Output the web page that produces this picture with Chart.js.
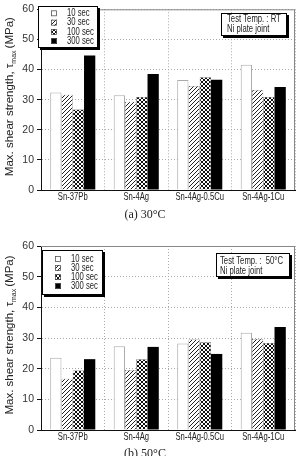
<!DOCTYPE html>
<html>
<head>
<meta charset="utf-8">
<script src="https://cdn.jsdelivr.net/npm/chart.js@4.4.0/dist/chart.umd.min.js"></script>
<style>
  html, body { margin: 0; padding: 0; background: #fff; overflow: hidden; }
  .box { position: absolute; left: 0; width: 299px; height: 228px; }
</style>
</head>
<body>
<div class="box" style="top:0"><canvas id="c1"></canvas></div>
<div class="box" style="top:228px"><canvas id="c2"></canvas></div>
<script>
// Data
const categories = ['Sn-37Pb', 'Sn-4Ag', 'Sn-4Ag-0.5Cu', 'Sn-4Ag-1Cu'];
const seriesNames = ['10 sec', '30 sec', '100 sec', '300 sec'];
const yTicks = [0, 10, 20, 30, 40, 50, 60];

// (a) 30°C
const rt10  = [32.4, 31.5, 36.5, 41.6];
const rt30  = [31.6, 29.3, 34.5, 33.2];
const rt100 = [26.7, 30.9, 37.4, 30.9];
const rt300 = [44.7, 38.5, 36.6, 34.2];

// (b) 50°C
const t50_10  = [23.6, 27.3, 28.2, 31.7];
const t50_30  = [16.7, 19.6, 29.5, 29.7];
const t50_100 = [19.4, 23.1, 28.6, 28.4];
const t50_300 = [23.1, 27.1, 24.8, 33.6];

const SANS = '"Liberation Sans", Arial, sans-serif';

// Fill patterns
function hatchPattern() {
  const c = document.createElement('canvas');
  c.width = c.height = 4;
  const g = c.getContext('2d');
  g.fillStyle = '#fff';
  g.fillRect(0, 0, 4, 4);
  g.strokeStyle = '#222';
  g.lineWidth = 1;
  g.beginPath();
  g.moveTo(0, 4); g.lineTo(4, 0);
  g.moveTo(-1, 1); g.lineTo(1, -1);
  g.moveTo(3, 5); g.lineTo(5, 3);
  g.stroke();
  return g.createPattern(c, 'repeat');
}
function crossPattern() {
  const c = document.createElement('canvas');
  c.width = c.height = 4;
  const g = c.getContext('2d');
  g.fillStyle = '#fff';
  g.fillRect(0, 0, 4, 4);
  g.strokeStyle = '#111';
  g.lineWidth = 1;
  g.beginPath();
  g.moveTo(0, 4); g.lineTo(4, 0);
  g.moveTo(0, 0); g.lineTo(4, 4);
  g.stroke();
  return g.createPattern(c, 'repeat');
}

function makeDatasets(d10, d30, d100, d300) {
  const common = { barPercentage: 1.0, categoryPercentage: 0.71 };
  return [
    Object.assign({ label: seriesNames[0], data: d10, backgroundColor: '#fff', borderColor: '#aaa', borderWidth: 1 }, common),
    Object.assign({ label: seriesNames[1], data: d30, backgroundColor: hatchPattern(), borderColor: '#666', borderWidth: 0.5 }, common),
    Object.assign({ label: seriesNames[2], data: d100, backgroundColor: crossPattern(), borderColor: '#333', borderWidth: 0.5 }, common),
    Object.assign({ label: seriesNames[3], data: d300, backgroundColor: '#000', borderColor: '#000', borderWidth: 0 }, common)
  ];
}

// the figure text is horizontally compressed
function narrowText(ctx, text, x, y, align, squish) {
  ctx.save();
  ctx.translate(x, y);
  ctx.scale(squish, 1);
  ctx.textAlign = align || 'left';
  ctx.fillText(text, 0, 0);
  ctx.restore();
}

// Extra drawing: frame, x labels, y title, legend box, note box, caption
const overlay = {
  id: 'overlay',
  afterDraw(chart, args, o) {
    const ctx = chart.ctx, a = chart.chartArea;
    ctx.save();

    // top and right frame
    ctx.strokeStyle = '#888';
    ctx.lineWidth = 1;
    ctx.beginPath();
    ctx.moveTo(a.left, a.top + 0.5);
    ctx.lineTo(a.right - 0.5, a.top + 0.5);
    ctx.lineTo(a.right - 0.5, a.bottom);
    ctx.stroke();

    // category labels
    const xs = chart.scales.x;
    ctx.fillStyle = '#222';
    ctx.textBaseline = 'middle';
    ctx.font = '10.5px ' + SANS;
    chart.data.labels.forEach((lab, i) => {
      narrowText(ctx, lab, xs.getPixelForTick(i), a.bottom + 7, 'center', 0.73);
    });

    // y axis title with subscript
    ctx.textAlign = 'left';
    const cy = (a.top + a.bottom) / 2 - 3;
    const mainFont = '11.5px ' + SANS, subFont = '7px ' + SANS;
    const p1 = 'Max. shear strength, \u03c4', p2 = 'max', p3 = '(MPa)';
    ctx.font = mainFont;
    const w1 = ctx.measureText(p1).width, w3 = ctx.measureText(p3).width;
    ctx.font = subFont;
    const w2 = ctx.measureText(p2).width;
    const total = w1 + w2 + 2 + w3;
    ctx.translate(o.titleX, cy);
    ctx.rotate(-Math.PI / 2);
    let x = -total / 2;
    ctx.font = mainFont;
    ctx.fillText(p1, x, 0);
    x += w1;
    ctx.font = subFont;
    ctx.fillText(p2, x, 4);
    x += w2 + 2;
    ctx.font = mainFont;
    ctx.fillText(p3, x, 0);
    ctx.setTransform(1, 0, 0, 1, 0, 0);

    // legend box
    const L = o.legend;
    ctx.fillStyle = '#000';
    ctx.fillRect(L.x + 2, L.y + 2, L.w, L.h);
    ctx.fillStyle = '#fff';
    ctx.fillRect(L.x, L.y, L.w, L.h);
    ctx.strokeStyle = '#000';
    ctx.lineWidth = 1;
    ctx.strokeRect(L.x + 0.5, L.y + 0.5, L.w - 1, L.h - 1);
    ctx.font = '10px ' + SANS;
    ctx.textBaseline = 'middle';
    chart.data.datasets.forEach((ds, i) => {
      const ry = L.rows[i];
      ctx.fillStyle = ds.backgroundColor;
      ctx.fillRect(L.sx, ry - 3, 6, 6);
      ctx.strokeStyle = '#555';
      ctx.lineWidth = 0.8;
      ctx.strokeRect(L.sx + 0.5, ry - 2.5, 5, 5);
      ctx.fillStyle = '#222';
      narrowText(ctx, ds.label, L.tx, ry, 'left', 0.77);
    });

    // note box
    const N = o.note;
    ctx.fillStyle = '#000';
    ctx.fillRect(N.x + 2, N.y + 2, N.w, N.h);
    ctx.fillStyle = '#fff';
    ctx.fillRect(N.x, N.y, N.w, N.h);
    ctx.strokeStyle = '#000';
    ctx.lineWidth = 1;
    ctx.strokeRect(N.x + 0.5, N.y + 0.5, N.w - 1, N.h - 1);
    ctx.fillStyle = '#222';
    ctx.font = '10px ' + SANS;
    N.lines.forEach((t, i) => narrowText(ctx, t, N.tx, N.ty[i], 'left', 0.77));

    // caption
    ctx.font = '12px "Liberation Serif", "Times New Roman", serif';
    ctx.textAlign = 'center';
    ctx.fillStyle = '#222';
    ctx.fillText(o.caption, o.capX, o.capY);

    ctx.restore();
  }
};

function makeChart(id, datasets, padTop, xHeight, overlayOpts) {
  return new Chart(document.getElementById(id), {
    type: 'bar',
    data: { labels: categories, datasets: datasets },
    plugins: [overlay],
    options: {
      responsive: true,
      maintainAspectRatio: false,
      animation: false,
      devicePixelRatio: 1,
      layout: { padding: { top: padTop, right: 4, left: 0, bottom: 0 } },
      plugins: {
        legend: { display: false },
        tooltip: { enabled: false },
        overlay: overlayOpts
      },
      scales: {
        x: {
          afterFit: s => { s.height = xHeight; },
          grid: { offset: true, drawTicks: false, color: '#aaa' },
          border: { color: '#111', width: 1, dash: [1, 2] },
          ticks: { display: false }
        },
        y: {
          min: 0,
          max: 60,
          afterFit: s => { s.width = 41; },
          afterBuildTicks: s => { s.ticks = yTicks.map(v => ({ value: v })); },
          grid: { color: '#aaa', tickColor: '#111', tickLength: 4, tickBorderDash: [] },
          border: { color: '#111', width: 1, dash: [1, 2] },
          ticks: { font: { family: SANS, size: 10.5 }, color: '#333', padding: 3 }
        }
      }
    }
  });
}

makeChart('c1', makeDatasets(rt10, rt30, rt100, rt300), 6, 38, {
  titleX: 10,
  legend: { x: 38, y: 6, w: 60, h: 42, sx: 51, tx: 67, rows: [13.3, 22.7, 32, 41] },
  note: { x: 221, y: 13, w: 66, h: 23, tx: 227, ty: [19.5, 29.5], lines: ['Test Temp. : RT', 'Ni plate joint'] },
  caption: '(a) 30\u00b0C', capX: 145, capY: 215
});

makeChart('c2', makeDatasets(t50_10, t50_30, t50_100, t50_300), 18, 26, {
  titleX: 10,
  legend: { x: 42, y: 22, w: 61, h: 45, sx: 55, tx: 71, rows: [31, 40, 49, 58] },
  note: { x: 216, y: 25, w: 74, h: 24, tx: 220, ty: [33.5, 43.5], lines: ['Test Temp. :  50\u00b0C', 'Ni plate joint'] },
  caption: '(b) 50\u00b0C', capX: 145, capY: 226
});
</script>
</body>
</html>
